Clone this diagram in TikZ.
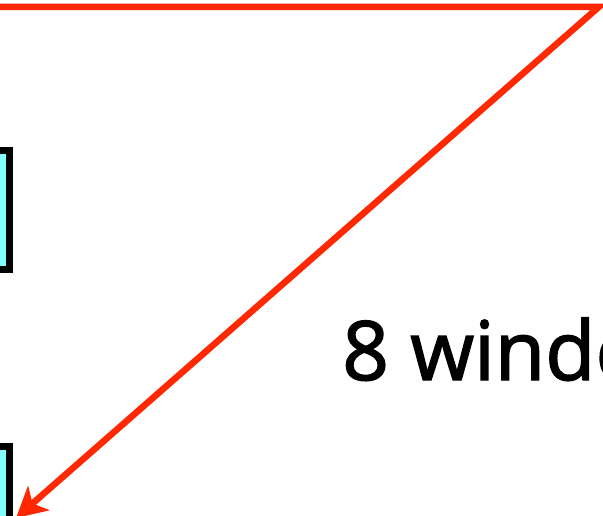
\documentclass[tikz,border=0pt]{standalone}
\usepackage{fontspec}
\setmainfont{Open Sans}
\newfontfamily\lblfont[FakeBold=1.8]{Open Sans}
\usetikzlibrary{arrows.meta}
\definecolor{arrowred}{RGB}{255,40,0}
\definecolor{boxcyan}{RGB}{128,255,255}
\tikzset{
  cyanbox/.style={draw=black, fill=boxcyan, line width=7pt, rectangle, inner sep=0pt},
  redarrow/.style={draw=arrowred, line width=6.5pt, line join=miter,
    -{Stealth[length=30pt,width=32pt,inset=8pt]}},
  label/.style={font=\lblfont\fontsize{82}{90}\selectfont, inner sep=0pt, anchor=base west}
}
\begin{document}
\begin{tikzpicture}[x=1pt,y=-1pt]
\useasboundingbox (0,0) rectangle (603,515);
\clip (0,0) rectangle (603,515);
\fill[white] (0,0) rectangle (603,515);
\node[cyanbox, minimum width=70pt, minimum height=119pt] (boxa) at (-25.5,210) {};
\node[cyanbox, minimum width=70pt, minimum height=160pt] (boxb) at (-25.5,526.5) {};
\node[label] (txt) at (342,380) {8 windows};
\coordinate (start) at (-30,6.8);
\coordinate (corner) at (599,6.8);
\coordinate (tip) at (16,518);
\draw[redarrow] (start) -- (corner) -- (tip);
\end{tikzpicture}
\end{document}
